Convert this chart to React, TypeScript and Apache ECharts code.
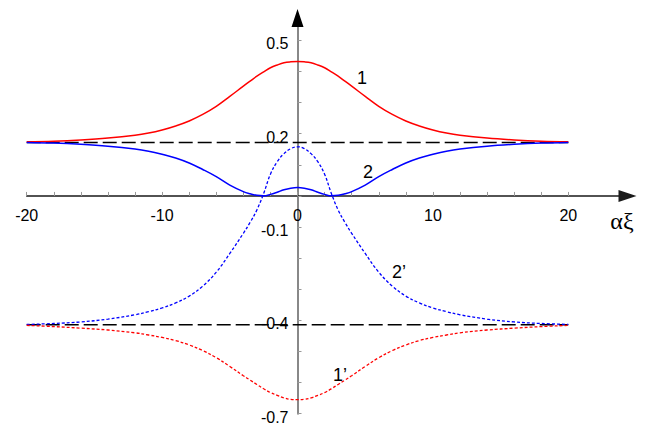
import React, { useEffect, useRef } from "react";
import * as echarts from "echarts";

// x positions (αξ) at which curves were read
const xs = [
  -20, -18, -16, -14, -12, -11, -10, -9, -8, -7, -6, -5, -4, -3.5, -3, -2.5, -2, -1.5, -1, -0.5,
  0,
  0.5, 1, 1.5, 2, 2.5, 3, 3.5, 4, 5, 6, 7, 8, 9, 10, 11, 12, 14, 16, 18, 20,
];

// curve 1 (red solid)
const curve1 = [
  0.174, 0.176, 0.18, 0.186, 0.195, 0.202, 0.212, 0.225, 0.241, 0.262, 0.288, 0.32, 0.353, 0.369, 0.385, 0.399, 0.412, 0.421, 0.428, 0.431,
  0.432,
  0.431, 0.428, 0.421, 0.412, 0.399, 0.385, 0.369, 0.353, 0.32, 0.288, 0.262, 0.241, 0.225, 0.212, 0.202, 0.195, 0.186, 0.18, 0.176, 0.174,
];

// curve 2 (blue solid)
const curve2 = [
  0.172, 0.17, 0.166, 0.16, 0.151, 0.144, 0.134, 0.122, 0.106, 0.085, 0.062, 0.035, 0.014, 0.007, 0.002, 0.0005, 0.005, 0.012, 0.02, 0.025,
  0.027,
  0.025, 0.02, 0.012, 0.005, 0.0005, 0.002, 0.007, 0.014, 0.035, 0.062, 0.085, 0.106, 0.122, 0.134, 0.144, 0.151, 0.16, 0.166, 0.17, 0.172,
];

// curve 2' (blue dotted)
const curve2p = [
  -0.413, -0.41, -0.405, -0.396, -0.382, -0.372, -0.36, -0.344, -0.322, -0.29, -0.245, -0.185, -0.12, -0.085, -0.045, 0.008, 0.07, 0.11, 0.136, 0.152,
  0.158,
  0.152, 0.136, 0.11, 0.07, 0.008, -0.045, -0.085, -0.12, -0.185, -0.245, -0.29, -0.322, -0.344, -0.36, -0.372, -0.382, -0.396, -0.405, -0.41, -0.413,
];

// curve 1' (red dotted)
const curve1p = [
  -0.416, -0.42, -0.425, -0.431, -0.44, -0.447, -0.455, -0.465, -0.479, -0.497, -0.52, -0.548, -0.578, -0.592, -0.606, -0.62, -0.632, -0.641, -0.649, -0.654,
  -0.655,
  -0.654, -0.649, -0.641, -0.632, -0.62, -0.606, -0.592, -0.578, -0.548, -0.52, -0.497, -0.479, -0.465, -0.455, -0.447, -0.44, -0.431, -0.425, -0.42, -0.416,
];

// horizontal dashed asymptotes
const asymX = [-20, 20];
const asymUpper = 0.172;
const asymLower = -0.414;

// axes
const X_MIN = -20;
const X_MAX = 24.37;
const Y_MIN = -0.7;
const Y_MAX = 0.572;
const xLabels = [-20, -10, 0, 10, 20];
const xTicks = [-20, -18, -16, -14, -12, -10, -8, -6, -4, -2, 0, 2, 4, 6, 8, 10, 12, 14, 16, 18, 20];
const yLabels = [-0.7, -0.4, -0.1, 0.2, 0.5];
const yTicks = [-0.7, -0.6, -0.5, -0.4, -0.3, -0.2, -0.1, 0, 0.1, 0.2, 0.3, 0.4, 0.5];

const curveNames = ["1", "2", "2’", "1’"];
const axisTitle = "αξ";

const FONT = "'Liberation Sans', Arial, sans-serif";
const W = 649;
const H = 436;
const GRID = { left: 26.7, right: 21.5, top: 18, bottom: 22.3 };

export default function App() {
  const ref = useRef<HTMLDivElement>(null);

  useEffect(() => {
    if (!ref.current) return;
    const chart = echarts.init(ref.current, null, { renderer: "svg" });
    const pts = (ys: number[]) => xs.map((x, i) => [x, ys[i]]);

    const gw = W - GRID.left - GRID.right;
    const gh = H - GRID.top - GRID.bottom;
    // shift of the label-carrying axes so that they sit on the zero lines
    const yLabelOffset = -((0 - X_MIN) / (X_MAX - X_MIN)) * gw;
    const xLabelOffset = -((0 - Y_MIN) / (Y_MAX - Y_MIN)) * gh;

    const textEl = (text: string, x: number, y: number, size: number, family = FONT) => ({
      type: "text",
      x,
      y,
      style: {
        text,
        fill: "#000",
        fontSize: size,
        fontFamily: family,
        align: "center",
        verticalAlign: "middle",
      },
    });

    chart.setOption({
      animation: false,
      backgroundColor: "#fff",
      grid: { ...GRID, containLabel: false, outerBoundsMode: "none" },
      xAxis: [
        {
          type: "value",
          min: X_MIN,
          max: X_MAX,
          position: "bottom",
          offset: xLabelOffset,
          axisLine: { show: false, onZero: false },
          axisTick: { show: false },
          axisLabel: { customValues: xLabels, margin: 12, color: "#000", fontSize: 16, fontFamily: FONT },
          splitLine: { show: false },
        },
        {
          type: "value",
          min: X_MIN,
          max: X_MAX,
          position: "top",
          axisLine: {
            onZero: true,
            onZeroAxisIndex: 0,
            symbol: ["none", "triangle"],
            symbolSize: [12, 18],
            lineStyle: { color: "#1a1a1a", width: 1.5 },
          },
          axisTick: { customValues: xTicks, inside: false, length: 4, lineStyle: { color: "#999", width: 1 } },
          axisLabel: { show: false },
          splitLine: { show: false },
        },
      ],
      yAxis: [
        {
          type: "value",
          min: Y_MIN,
          max: Y_MAX,
          position: "left",
          offset: yLabelOffset,
          axisLine: { show: false, onZero: false },
          axisTick: { show: false },
          axisLabel: {
            customValues: yLabels,
            margin: 9,
            formatter: "{v|{value}}",
            rich: {
              v: { padding: [7, 0, 0, 0], color: "#000", fontSize: 16, fontFamily: FONT },
            },
            color: "#000",
            fontSize: 16,
            fontFamily: FONT,
          },
          splitLine: { show: false },
        },
        {
          type: "value",
          min: Y_MIN,
          max: Y_MAX,
          position: "right",
          axisLine: { onZero: true, onZeroAxisIndex: 0, lineStyle: { color: "#888", width: 2 } },
          axisTick: { customValues: yTicks, inside: false, length: 4, lineStyle: { color: "#999", width: 1 } },
          axisLabel: { show: false },
          splitLine: { show: false },
        },
        {
          type: "value",
          min: Y_MIN,
          max: Y_MAX,
          axisLine: {
            onZero: true,
            onZeroAxisIndex: 0,
            symbol: ["none", "triangle"],
            symbolSize: [12, 18],
            lineStyle: { color: "#000", width: 0 },
          },
          axisTick: { show: false },
          axisLabel: { show: false },
          splitLine: { show: false },
        },
      ],
      series: [
        {
          type: "line",
          data: asymX.map((x) => [x, asymUpper]),
          showSymbol: false,
          lineStyle: { color: "#000", width: 1.5, type: [14, 5] },
          z: 1,
        },
        {
          type: "line",
          data: asymX.map((x) => [x, asymLower]),
          showSymbol: false,
          lineStyle: { color: "#000", width: 1.5, type: [14, 5] },
          z: 1,
        },
        {
          type: "line",
          name: curveNames[0],
          data: pts(curve1),
          smooth: 0.4,
          showSymbol: false,
          lineStyle: { color: "#ff0000", width: 1.5 },
          z: 3,
        },
        {
          type: "line",
          name: curveNames[1],
          data: pts(curve2),
          smooth: 0.4,
          showSymbol: false,
          lineStyle: { color: "#0000ff", width: 1.5 },
          z: 3,
        },
        {
          type: "line",
          name: curveNames[2],
          data: pts(curve2p),
          smooth: 0.4,
          showSymbol: false,
          lineStyle: { color: "#0000ff", width: 1.3, type: [3, 2] },
          z: 3,
        },
        {
          type: "line",
          name: curveNames[3],
          data: pts(curve1p),
          smooth: 0.4,
          showSymbol: false,
          lineStyle: { color: "#ff0000", width: 1.3, type: [3, 2] },
          z: 3,
        },
      ],
      graphic: [
        textEl(curveNames[0], 362, 78, 18),
        textEl(curveNames[1], 368, 172, 18),
        textEl(curveNames[2], 399, 272, 18),
        textEl(curveNames[3], 340, 375, 18),
        textEl(axisTitle, 622, 221, 24, "'Liberation Serif', 'DejaVu Serif', serif"),
      ],
    });

    return () => chart.dispose();
  }, []);

  return (
    <div
      ref={ref}
      style={{ position: "absolute", left: 0, top: 0, width: W, height: H, background: "#fff" }}
    />
  );
}
